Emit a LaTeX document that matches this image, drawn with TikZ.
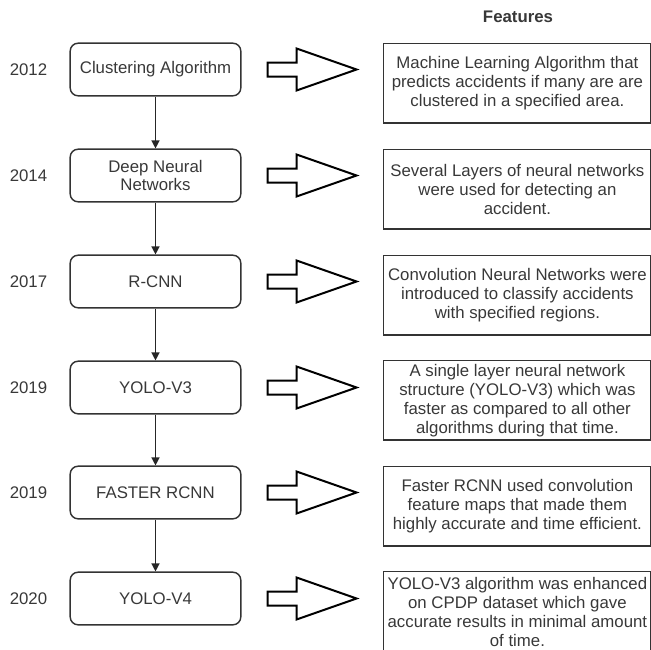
\documentclass[tikz,border=0pt]{standalone}
\usepackage{fontspec}
\setmainfont{Liberation Sans}
\usetikzlibrary{arrows.meta,positioning}

\begin{document}
\begin{tikzpicture}[
    x=0.75pt, y=-0.75pt,
    every node/.style={font=\fontsize{12.6}{14.2}\selectfont, text=black!78},
    algo/.style={draw=black!80, line width=1.1pt, rounded corners=6pt, minimum width=128pt, minimum height=39.5pt, align=center, inner sep=2pt},
    feat/.style={draw=black!80, line width=1.1pt, anchor=north west, minimum width=200.5pt, minimum height=59.5pt, align=center, inner sep=2pt},
    yr/.style={inner sep=0pt},
    flow/.style={-{Triangle[length=6pt,width=6pt]}, line width=1pt, black!85},
    fatarrow/.pic={\draw[line width=1.5pt, fill=white] (0,-7) -- (29,-7) -- (29,-21) -- (89,0) -- (29,21) -- (29,7) -- (0,7) -- cycle;}]
  \useasboundingbox (0,0) rectangle (651,650);
  \node[font=\bfseries\fontsize{12.6}{14.2}\selectfont] (head) at (518,17) {Features};
  % timeline of methods
  \node[algo] (c1) at (155.5,69.5)  {Clustering Algorithm};
  \node[algo] (c2) at (155.5,175.5) {Deep Neural\\Networks};
  \node[algo] (c3) at (155.5,281.5) {R-CNN};
  \node[algo] (c4) at (155.5,387.5) {YOLO-V3};
  \node[algo] (c5) at (155.5,492.5) {FASTER RCNN};
  \node[algo] (c6) at (155.5,598.5) {YOLO-V4};
  \node[yr] (y1) at (28.5,69.5)  {2012};
  \node[yr] (y2) at (28.5,175.5) {2014};
  \node[yr] (y3) at (28.5,281.5) {2017};
  \node[yr] (y4) at (28.5,387.5) {2019};
  \node[yr] (y5) at (28.5,492.5) {2019};
  \node[yr] (y6) at (28.5,598.5) {2020};
  % what each method brought
  \node[feat] (f1) at (383,43)  {Machine Learning Algorithm that\\predicts accidents if many are are\\clustered in a specified area.};
  \node[feat] (f2) at (383,149) {Several Layers of neural networks\\were used for detecting an\\accident.};
  \node[feat] (f3) at (383,255) {Convolution Neural Networks were\\introduced to classify accidents\\with specified regions.};
  \node[feat] (f4) at (383,360) {A single layer neural network\\structure (YOLO-V3) which was\\faster as compared to all other\\algorithms during that time.};
  \node[feat] (f5) at (383,466) {Faster RCNN used convolution\\feature maps that made them\\highly accurate and time efficient.};
  \node[feat, minimum height=60pt, inner ysep=1pt] (f6) at (383,571) {YOLO-V3 algorithm was enhanced\\on CPDP dataset which gave\\accurate results in minimal amount\\of time.};
  \foreach \a/\b in {c1/c2, c2/c3, c3/c4, c4/c5, c5/c6}
    \draw[flow] (\a) -- (\b);
  \foreach \a in {c1,c2,c3,c4,c5,c6}
    \path (\a.east) ++(26,0) pic {fatarrow};
\end{tikzpicture}
\end{document}
